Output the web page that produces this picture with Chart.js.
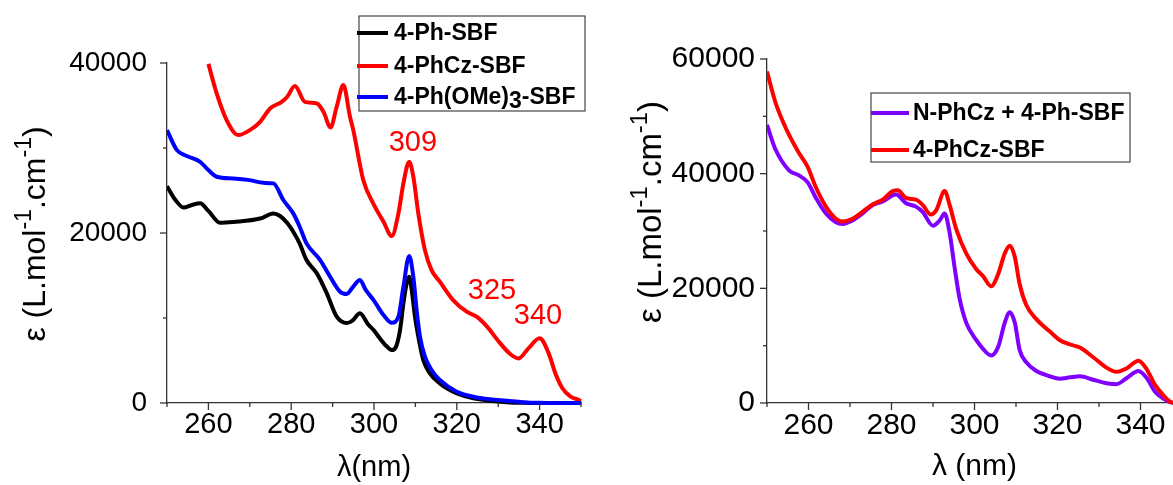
<!DOCTYPE html>
<html>
<head>
<meta charset="utf-8">
<script src="https://cdn.jsdelivr.net/npm/chart.js@4.4.0/dist/chart.umd.min.js"></script>
<style>
  html, body { margin: 0; padding: 0; background: #fff; overflow: hidden; }
  #wrap { position: relative; width: 1173px; height: 485px; overflow: hidden; }
  #leftChart { position: absolute; left: 0; top: 0; }
  #rightChart { position: absolute; left: 600px; top: 0; }
</style>
</head>
<body>
<div id="wrap">
  <canvas id="leftChart" width="640" height="485"></canvas>
  <canvas id="rightChart" width="600" height="485"></canvas>
</div>
<script>
// ---- left panel : 4-Ph-SBF / 4-PhCz-SBF / 4-Ph(OMe)3-SBF ----
const phSbfNm = [250, 252, 254, 256, 258, 260, 262.8, 266, 272.5, 275.7, 277.3, 279, 280.5, 282, 283.7, 286.2, 288.6, 291, 293.4, 294.8, 296.6, 298.5, 299.9, 301.4, 303, 304.3, 305.2, 306.3, 307.1, 307.9, 308.5, 309.1, 309.9, 310.7, 311.9, 313.5, 315.9, 318, 320, 324, 328, 332, 336, 340, 350];
const phSbfEps = [25500, 23900, 23000, 23300, 23500, 22600, 21200, 21300, 21700, 22300, 22000, 21200, 20140, 18800, 16820, 15250, 12900, 10150, 9400, 9700, 10550, 9300, 8580, 7610, 6700, 6230, 6500, 8600, 11700, 14080, 14850, 13300, 10150, 7800, 5060, 3490, 2310, 1600, 1130, 550, 270, 100, 20, 0, 0];

const phCzNm = [260, 262, 264.4, 267.2, 270, 272.5, 274.9, 277.7, 279, 280.9, 283.3, 286.2, 287.8, 289.5, 291, 292.6, 294.2, 295, 297.4, 299.8, 302.3, 304.3, 305.9, 307.1, 308.5, 309.5, 310.7, 312.3, 313.9, 315.9, 319.1, 322.4, 324.8, 327.3, 330.5, 332.9, 334.9, 337.3, 340, 342.2, 343.8, 345.5, 347.5, 349.5, 350];
const phCzEps = [39900, 36420, 33280, 31520, 32100, 33080, 34650, 35430, 36000, 37280, 35430, 35240, 34260, 32420, 34880, 37400, 33670, 32100, 26230, 23490, 21320, 19640, 22310, 25840, 28380, 26620, 22310, 17990, 15640, 14270, 12110, 10740, 10150, 8980, 7010, 5760, 5250, 6430, 7610, 5840, 3490, 1730, 740, 350, 200];

const phOMeNm = [250, 252.4, 254.8, 258, 260, 262, 266, 270, 273.3, 275.7, 278.1, 280.5, 282, 283.7, 287, 289.4, 291.8, 293.4, 295, 296.6, 298, 299.9, 302.3, 304.3, 305.9, 307.1, 308.5, 309.5, 310.3, 311.1, 312.3, 313.9, 315.9, 320, 324, 328, 332, 336, 340, 344, 350];
const phOMeEps = [32100, 29750, 29050, 28380, 27400, 26620, 26420, 26220, 25900, 25840, 23880, 22310, 20800, 18780, 16820, 14850, 13090, 12820, 13700, 14470, 13300, 12110, 10350, 9440, 10150, 13680, 17290, 14850, 10940, 7800, 5450, 3880, 2700, 1330, 740, 430, 270, 100, 20, 0, 0];

// ---- right panel : N-PhCz + 4-Ph-SBF / 4-PhCz-SBF ----
const mixNm = [250, 252, 255.3, 257.7, 259.8, 261.8, 264.2, 266.6, 268.2, 270.6, 273, 275.5, 277.9, 281.1, 283.5, 285.9, 287.5, 290, 291.6, 292.8, 294, 295.2, 296.4, 298, 300.4, 302, 304, 305.7, 307.3, 308.5, 309.7, 310.9, 312.5, 314.9, 318.1, 320.5, 323, 325.4, 328.6, 331.8, 334.2, 336.7, 339.5, 341.5, 343.5, 345.5, 347.1, 349];
const mixEps = [48500, 44300, 40590, 39690, 38480, 35760, 33040, 31530, 31230, 31830, 33040, 34550, 35160, 36360, 34850, 34250, 33340, 30930, 31830, 33040, 29720, 23680, 18240, 14020, 11000, 9490, 8280, 9790, 14020, 15830, 14020, 9190, 7080, 5570, 4670, 4240, 4480, 4670, 4060, 3460, 3280, 4360, 5570, 4360, 1950, 750, 150, 0];

const czRightNm = [250, 252, 254, 255.5, 257.7, 259.8, 261.8, 264.2, 266.6, 268.2, 270.6, 273, 275.5, 277.9, 280.3, 281.5, 283.5, 285.9, 287.5, 289.5, 290.8, 292.8, 294, 295.6, 298, 300.4, 302, 304, 305.7, 307.3, 308.5, 309.7, 310.9, 312.5, 314.9, 318.1, 320.5, 323, 325.4, 328.6, 331.8, 334.2, 336.7, 339.5, 341.5, 343.5, 345.5, 347.1, 348, 350];
const czRightEps = [57800, 52500, 48800, 46500, 43600, 41200, 37580, 34250, 32130, 31650, 32130, 33340, 34670, 35460, 36970, 37090, 35760, 35460, 34550, 32860, 33640, 36970, 34550, 30330, 26100, 23380, 22170, 20360, 22480, 26100, 27430, 25500, 20660, 17040, 14620, 12500, 10990, 10210, 9670, 7980, 6170, 5440, 6050, 7380, 5870, 3150, 1340, 250, 0, 0];

// peak labels of the left panel (wavelength, epsilon where the text sits)
const peakLabels = ['309', '325', '340'];
const peakNm = [309.4, 328.5, 339.6];
const peakEps = [30580, 13170, 10230];

const FONT = "'Liberation Sans', Arial, Helvetica, sans-serif";
const AXIS = '#333';

function pts(xs, ys) {
  return xs.map((x, i) => ({ x: x, y: ys[i] }));
}

function line(label, xs, ys, color, order) {
  return {
    label: label,
    data: pts(xs, ys),
    borderColor: color,
    backgroundColor: color,
    borderWidth: 4,
    pointRadius: 0,
    fill: false,
    cubicInterpolationMode: 'monotone',
    order: order,
    clip: { left: 0, top: 0, right: 3, bottom: 3 }
  };
}

// tick marks: labelled ticks long, the others short
const tickMarks = {
  id: 'tickMarks',
  afterDraw(chart) {
    const ctx = chart.ctx, a = chart.chartArea;
    ctx.save();
    ctx.strokeStyle = AXIS;
    ctx.lineWidth = 1.3;
    chart.scales.x.ticks.forEach(t => {
      const p = chart.scales.x.getPixelForValue(t.value);
      const len = t.label !== '' ? 7 : 4;
      ctx.beginPath(); ctx.moveTo(p, a.bottom); ctx.lineTo(p, a.bottom + len); ctx.stroke();
    });
    chart.scales.y.ticks.forEach(t => {
      const p = chart.scales.y.getPixelForValue(t.value);
      const len = t.label !== '' ? 7 : 4;
      ctx.beginPath(); ctx.moveTo(a.left, p); ctx.lineTo(a.left - len, p); ctx.stroke();
    });
    ctx.restore();
  }
};

// rotated y title with superscripts
const yTitle = {
  id: 'yTitle',
  afterDraw(chart, args, o) {
    const ctx = chart.ctx;
    const parts = [['\u03b5 (L.mol', false], ['-1', true], ['.cm', false], ['-1', true], [')', false]];
    ctx.save();
    ctx.translate(o.x, o.y);
    ctx.rotate(-Math.PI / 2);
    ctx.fillStyle = '#000';
    ctx.textBaseline = 'middle';
    ctx.textAlign = 'left';
    let total = 0;
    parts.forEach(p => {
      ctx.font = (p[1] ? o.size * 0.72 : o.size) + 'px ' + FONT;
      total += ctx.measureText(p[0]).width;
    });
    let x = -total / 2;
    parts.forEach(p => {
      ctx.font = (p[1] ? o.size * 0.72 : o.size) + 'px ' + FONT;
      ctx.fillText(p[0], x, p[1] ? -o.size * 0.36 : 0);
      x += ctx.measureText(p[0]).width;
    });
    ctx.restore();
  }
};

// framed legend; a digit right after ")" is set a little low
const boxLegend = {
  id: 'boxLegend',
  afterDraw(chart, args, o) {
    const ctx = chart.ctx;
    ctx.save();
    ctx.strokeStyle = '#444';
    ctx.lineWidth = 1.2;
    ctx.strokeRect(o.x, o.y, o.w, o.h);
    ctx.font = 'bold ' + o.size + 'px ' + FONT;
    ctx.textBaseline = 'middle';
    ctx.fillStyle = '#000';
    chart.data.datasets.forEach((ds, i) => {
      const y = o.rows[i];
      ctx.strokeStyle = ds.borderColor;
      ctx.lineWidth = 4;
      ctx.beginPath(); ctx.moveTo(o.lineX, y); ctx.lineTo(o.lineX + o.lineLen, y); ctx.stroke();
      const pieces = ds.label.split(/(?<=\))(\d)/);
      let x = o.textX;
      pieces.forEach((s, k) => {
        const low = k % 2 === 1;
        ctx.fillText(s, x, y + 1 + (low ? 4 : 0));
        x += ctx.measureText(s).width;
      });
    });
    ctx.restore();
  }
};

// red peak labels placed through the scales
const peakText = {
  id: 'peakText',
  afterDraw(chart, args, o) {
    if (!o.labels) return;
    const ctx = chart.ctx;
    ctx.save();
    ctx.fillStyle = '#ff0000';
    ctx.font = o.size + 'px ' + FONT;
    ctx.textAlign = 'center';
    ctx.textBaseline = 'middle';
    o.labels.forEach((t, i) => {
      ctx.fillText(t, chart.scales.x.getPixelForValue(o.nm[i]), chart.scales.y.getPixelForValue(o.eps[i]));
    });
    ctx.restore();
  }
};

function scales(o) {
  return {
    x: {
      type: 'linear', min: 250, max: 350,
      afterFit: s => { s.height = 82; },
      grid: { display: false, drawTicks: false },
      border: { display: true, color: AXIS, width: 1.3 },
      ticks: {
        stepSize: 10, autoSkip: false, maxRotation: 0, padding: 5, color: '#000',
        font: { family: FONT, size: o.xFont },
        callback: v => (v % 20 === 0 && v > 250 && v < 350) ? String(v) : ''
      },
      title: { display: true, text: o.xTitle, color: '#000', font: { family: FONT, size: o.xFont }, padding: 0 }
    },
    y: {
      type: 'linear', min: 0, max: o.yMax,
      afterFit: s => { s.width = 167; },
      grid: { display: false, drawTicks: false },
      border: { display: true, color: AXIS, width: 1.3 },
      ticks: {
        stepSize: 10000, autoSkip: false, padding: o.yPad, color: '#000',
        font: { family: FONT, size: o.yFont },
        callback: v => v % 20000 === 0 ? String(v) : ''
      }
    }
  };
}

new Chart(document.getElementById('leftChart'), {
  type: 'line',
  data: {
    datasets: [
      line('4-Ph-SBF', phSbfNm, phSbfEps, '#000000', 2),
      line('4-PhCz-SBF', phCzNm, phCzEps, '#ff0000', 1),
      line('4-Ph(OMe)3-SBF', phOMeNm, phOMeEps, '#0000ff', 0)
    ]
  },
  options: {
    responsive: false,
    animation: false,
    layout: { padding: { left: 0, top: 63, right: 59, bottom: 0 } },
    scales: scales({ xFont: 29, yFont: 28, yPad: 20, yMax: 40000, xTitle: '\u03bb(nm)' }),
    plugins: {
      legend: { display: false },
      tooltip: { enabled: false },
      yTitle: { x: 36, y: 234, size: 32 },
      boxLegend: { x: 359, y: 16, w: 226, h: 95, rows: [33, 66, 97], lineX: 357, lineLen: 31, textX: 394, size: 23 },
      peakText: { labels: peakLabels, nm: peakNm, eps: peakEps, size: 29 }
    }
  },
  plugins: [tickMarks, yTitle, boxLegend, peakText]
});

new Chart(document.getElementById('rightChart'), {
  type: 'line',
  data: {
    datasets: [
      line('N-PhCz + 4-Ph-SBF', mixNm, mixEps, '#8000ff', 1),
      line('4-PhCz-SBF', czRightNm, czRightEps, '#ff0000', 0)
    ]
  },
  options: {
    responsive: false,
    animation: false,
    layout: { padding: { left: 0, top: 59, right: 18, bottom: 0 } },
    scales: scales({ xFont: 30, yFont: 30, yPad: 12, yMax: 60000, xTitle: '\u03bb (nm)' }),
    plugins: {
      legend: { display: false },
      tooltip: { enabled: false },
      yTitle: { x: 52, y: 212, size: 33 },
      boxLegend: { x: 271, y: 93, w: 259, h: 69, rows: [113, 150], lineX: 271, lineLen: 38, textX: 313, size: 23 },
      peakText: {}
    }
  },
  plugins: [tickMarks, yTitle, boxLegend, peakText]
});
</script>
</body>
</html>
